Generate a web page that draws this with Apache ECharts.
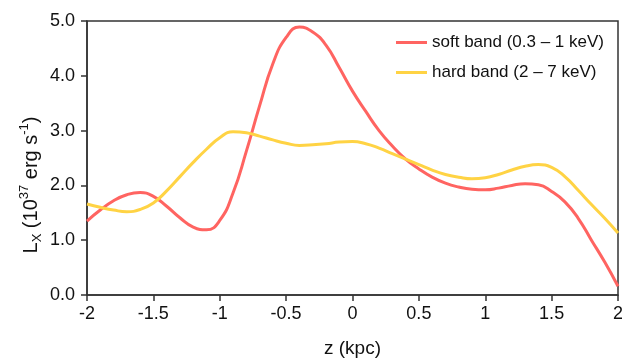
<!DOCTYPE html>
<html>
<head>
<meta charset="utf-8">
<script src="https://cdn.jsdelivr.net/npm/echarts@6/dist/echarts.min.js"></script>
<style>html,body{margin:0;padding:0;background:#fff;}#c{width:622px;height:358px;}</style>
</head>
<body>
<div id="c"></div>
<script>
var zValues = [-2.0,-1.9,-1.8,-1.7,-1.6,-1.5,-1.4,-1.3,-1.2,-1.1,-1.0,-0.9,-0.8,-0.7,-0.6,-0.5,-0.4,-0.3,-0.2,-0.1,0.0,0.1,0.2,0.3,0.4,0.5,0.6,0.7,0.8,0.9,1.0,1.1,1.2,1.3,1.4,1.5,1.6,1.7,1.8,1.9,2.0];
var softBand = [1.35,1.55,1.72,1.83,1.87,1.80,1.62,1.41,1.24,1.19,1.36,1.86,2.62,3.45,4.22,4.70,4.89,4.80,4.56,4.15,3.72,3.35,3.00,2.72,2.48,2.30,2.15,2.04,1.97,1.93,1.92,1.95,2.00,2.03,2.01,1.89,1.70,1.40,1.00,0.60,0.16];
var hardBand = [1.66,1.60,1.55,1.52,1.56,1.68,1.90,2.16,2.42,2.66,2.87,2.98,2.96,2.90,2.83,2.77,2.73,2.74,2.76,2.79,2.80,2.76,2.68,2.58,2.48,2.38,2.28,2.20,2.15,2.12,2.14,2.20,2.28,2.35,2.38,2.33,2.16,1.91,1.65,1.40,1.13];
var seriesNames = ['soft band (0.3 \u2013 1 keV)', 'hard band (2 \u2013 7 keV)'];

function pairs(vals){ return zValues.map(function(z,i){ return [z, vals[i]]; }); }

var chart = echarts.init(document.getElementById('c'));
var font = 'Liberation Sans, Arial, Helvetica, sans-serif';
chart.setOption({
  animation: false,
  backgroundColor: '#fff',
  grid: { left: 87, right: 4, top: 21, bottom: 63, show: true, borderColor: '#333', borderWidth: 1.5, containLabel: false, outerBoundsMode: 'none' },
  legend: {
    right: 13, top: 29, orient: 'vertical', itemGap: 13, itemWidth: 31, itemHeight: 3,
    icon: 'rect',
    textStyle: { fontFamily: font, fontSize: 17, color: '#111', padding: [0,0,0,0] },
    data: seriesNames
  },
  xAxis: {
    type: 'value', min: -2, max: 2, interval: 0.5,
    axisLine: { onZero: false, lineStyle: { color: '#333', width: 1.5 } },
    axisTick: { show: true, inside: false, length: 6, lineStyle: { color: '#333', width: 1.5 } },
    axisLabel: { fontFamily: font, fontSize: 18, color: '#111', margin: 10 },
    splitLine: { show: false },
    name: 'z (kpc)', nameLocation: 'middle', nameGap: 44,
    nameTextStyle: { fontFamily: font, fontSize: 19, color: '#111' }
  },
  yAxis: {
    type: 'value', min: 0, max: 5, interval: 1,
    axisLine: { show: true, onZero: false, lineStyle: { color: '#333', width: 1.5 } },
    axisTick: { show: true, inside: false, length: 6, lineStyle: { color: '#333', width: 1.5 } },
    axisLabel: { fontFamily: font, fontSize: 18, color: '#111', margin: 12, formatter: function(v){ return v.toFixed(1); } },
    splitLine: { show: false }
  },
  graphic: [{
    type: 'text', x: 31, y: 185, rotation: Math.PI/2,
    style: {
      text: '{n|L}{sub|X}{n| (10}{sup|37}{n| erg s}{sup|-1}{n|)}',
      align: 'center', verticalAlign: 'middle',
      fontFamily: font,
      rich: {
        n: { fontFamily: font, fontSize: 20, fill: '#111', lineHeight: 26, verticalAlign: 'middle' },
        sub: { fontFamily: font, fontSize: 13, fill: '#111', verticalAlign: 'bottom', lineHeight: 26 },
        sup: { fontFamily: font, fontSize: 13, fill: '#111', verticalAlign: 'top', lineHeight: 26 }
      }
    }
  }],
  series: [
    { name: seriesNames[0], type: 'line', smooth: true, showSymbol: false, data: pairs(softBand),
      lineStyle: { color: '#FF6461', width: 3 }, itemStyle: { color: '#FF6461' } },
    { name: seriesNames[1], type: 'line', smooth: true, showSymbol: false, data: pairs(hardBand),
      lineStyle: { color: '#FFD344', width: 3 }, itemStyle: { color: '#FFD344' } }
  ]
});
</script>
</body>
</html>
